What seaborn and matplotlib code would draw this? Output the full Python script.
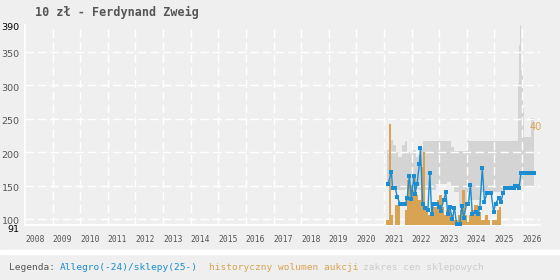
import numpy as np
import pandas as pd
import matplotlib
matplotlib.use("Agg")
import matplotlib.pyplot as plt
import matplotlib.transforms as mtransforms
import seaborn as sns

# ---------------- data ----------------
title = "10 zł - Ferdynand Zweig"
years = list(range(2008, 2027))
y_grid = [100, 150, 200, 250, 300, 350]
y_min, y_max = 91, 390

price_x = [2021.14, 2021.27, 2021.31, 2021.41, 2021.48, 2021.58, 2021.63, 2021.68, 2021.73, 2021.77,
           2021.84, 2021.92, 2021.99, 2022.08, 2022.13, 2022.20, 2022.28, 2022.32, 2022.40, 2022.47,
           2022.59, 2022.66, 2022.73, 2022.78, 2022.83, 2022.88, 2022.93, 2023.00, 2023.05, 2023.17,
           2023.24, 2023.31, 2023.38, 2023.48, 2023.55, 2023.63, 2023.74, 2023.82, 2023.89, 2023.99,
           2024.06, 2024.13, 2024.20, 2024.32, 2024.39, 2024.47, 2024.56, 2024.64, 2024.73, 2024.80,
           2024.88, 2024.97, 2025.04, 2025.17, 2025.24, 2025.31, 2025.38, 2025.43, 2025.48, 2025.53,
           2025.58, 2025.63, 2025.68, 2025.72, 2025.76, 2025.82, 2025.89, 2025.96, 2026.01, 2026.06,
           2026.11, 2026.16, 2026.21, 2026.26, 2026.31, 2026.36, 2026.42]
price_y = [152, 170, 146, 146, 133, 123, 123, 123, 123, 123,
           131, 165, 130, 164, 138, 153, 182, 206, 122, 117,
           114, 168, 107, 122, 122, 122, 122, 118, 112, 129,
           140, 107, 118, 100, 117, 92, 92, 120, 102, 122,
           123, 151, 107, 110, 107, 116, 176, 126, 139, 139,
           139, 111, 123, 132, 126, 139, 146, 146, 146, 146,
           146, 146, 146, 146, 149, 149, 146, 169, 169, 169,
           169, 169, 169, 169, 169, 169, 169]

band_x = [2021.10, 2021.18, 2021.33, 2021.42, 2021.50, 2021.65, 2021.75, 2021.85, 2021.95, 2022.05,
          2022.15, 2022.25, 2022.33, 2022.40, 2022.90, 2023.30, 2023.42, 2023.52, 2023.70, 2023.92,
          2024.00, 2024.50, 2025.00, 2025.30, 2025.85, 2025.87, 2025.90, 2025.94, 2025.98, 2026.02,
          2026.06, 2026.33, 2026.42]
band_hi = [203, 218, 210, 200, 193, 210, 217, 200, 197, 203,
           193, 195, 205, 217, 217, 217, 208, 202, 202, 202,
           217, 217, 217, 217, 217, 303, 360, 393, 323, 266,
           223, 251, 251]
band_lo = [148, 148, 146, 143, 143, 143, 145, 145, 145, 145,
           145, 143, 143, 143, 152, 155, 150, 140, 120, 125,
           128, 140, 140, 145, 148, 148, 150, 150, 150, 150,
           150, 150, 150]

vol_start_year = 2021
vol = [0, 2, 40, 4, 0, 8, 8, 0, 0, 6,
       18, 16, 14, 20, 12, 10, 23, 29, 7, 4,
       5, 7, 7, 10, 12, 7, 4, 6, 8, 4,
       2, 2, 4, 6, 14, 4, 1, 4, 6, 8,
       8, 5, 2, 2, 4, 2, 0, 2, 2, 6,
       7]
vol_label = "40"
vol_label_value = 40

legend_title = "Legenda:"
legend_items = ["Allegro(-24)/sklepy(25-)", "historyczny wolumen aukcji", "zakres cen sklepowych"]

# ---------------- style ----------------
BG = "#efefef"
BLUE = "#1b8dd0"
ORANGE = "#d8a352"
BAND = "#d4d4d4"
TXT = "#555555"

sns.set_style("white")
plt.rcParams["font.family"] = ["DejaVu Sans"]

fig = plt.figure(figsize=(5.6, 2.8), dpi=100, facecolor=BG)
ax = fig.add_axes([25 / 560, 55 / 280, 515 / 560, 200 / 280])
ax.set_facecolor(BG)
ax.set_xlim(2008, 2026.65)
ax.set_ylim(y_min, y_max)

# band
ax.fill_between(band_x, band_lo, band_hi, step="post", color=BAND, linewidth=0, zorder=1)

# grid
for g in y_grid:
    ax.axhline(g, color="white", linewidth=1, linestyle=(0, (6, 3)), zorder=2)
for yr in years[1:]:
    ax.axvline(yr, color="white", linewidth=1, linestyle=(0, (6, 3)), zorder=2)

for s in ["top", "right"]:
    ax.spines[s].set_visible(False)
for s in ["left", "bottom"]:
    ax.spines[s].set_color("white")
    ax.spines[s].set_linewidth(1.2)
ax.tick_params(length=0)

ax.set_xticks(years)
ax.set_xticklabels([str(y) for y in years], ha="left", fontsize=5.8,
                   family="DejaVu Sans Mono", color=TXT)
ax.tick_params(axis="x", pad=7)

yt = [y_min] + y_grid + [y_max]
ax.set_yticks(yt)
ax.set_yticklabels([str(v) for v in yt], fontsize=6.8, color=TXT)
ax.tick_params(axis="y", pad=4)
for lab in ax.get_yticklabels():
    shift = 4.0 if lab.get_text() == str(y_min) else 2.0
    off = mtransforms.ScaledTranslation(0, -shift / 100, fig.dpi_scale_trans)
    lab.set_transform(lab.get_transform() + off)
    if lab.get_text() in (str(y_min), str(y_max)):
        lab.set_color("black")

# volume bars
axv = ax.twinx()
months = np.arange(len(vol))
vdf = pd.DataFrame({"x": vol_start_year + (months + 0.5) / 12, "w": vol})
edges = [vol_start_year + i / 12 for i in range(len(vol) + 1)]
sns.histplot(data=vdf, x="x", weights="w", bins=edges, color=ORANGE, alpha=1,
             linewidth=0, ax=axv)
axv.set_ylim(0, 200 / 2.52)
axv.set_xlim(ax.get_xlim())
axv.axis("off")
axv.text(2026.27, vol_label_value, vol_label, color=ORANGE, fontsize=7, ha="left", va="center",
         transform=axv.transData + mtransforms.ScaledTranslation(0, -3 / 100, fig.dpi_scale_trans))

# price line
axb = ax.twinx()
pdf = pd.DataFrame({"x": price_x, "y": price_y})
sns.lineplot(data=pdf, x="x", y="y", color=BLUE, linewidth=1.0, marker="s", markersize=3.0,
             markeredgewidth=0, ax=axb)
axb.set_ylim(y_min, y_max)
axb.set_xlim(ax.get_xlim())
axb.axis("off")

# title
fig.text(35 / 560, 1 - 12 / 280, title, fontsize=8.5, fontweight="bold",
         family="DejaVu Sans Mono", color=TXT, va="center", ha="left")

# separator + legend
fig.patches.append(plt.Rectangle((0, 1 - 254 / 280), 1, 4 / 280, transform=fig.transFigure,
                                 color="white", zorder=0))
ly = 1 - 267 / 280
fig.text(9 / 560, ly, legend_title, fontsize=6.8, family="DejaVu Sans Mono", color=TXT, va="center")
fig.text(60 / 560, ly, legend_items[0], fontsize=6.8, family="DejaVu Sans Mono", color=BLUE, va="center")
fig.text(209 / 560, ly, legend_items[1], fontsize=6.8, family="DejaVu Sans Mono", color=ORANGE, va="center")
fig.text(363 / 560, ly, legend_items[2], fontsize=6.8, family="DejaVu Sans Mono", color="#cccccc", va="center")

fig.savefig("out.png", dpi=100, facecolor=BG)
